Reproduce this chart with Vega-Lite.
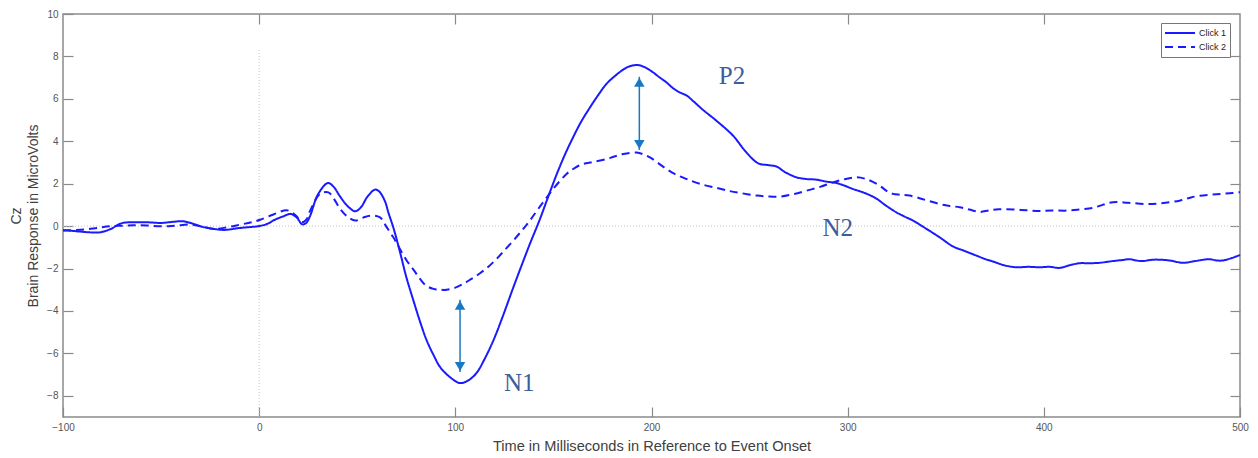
{
  "$schema": "https://vega.github.io/schema/vega-lite/v6.json",
  "width": 1177,
  "height": 403,
  "autosize": {"type": "none"},
  "padding": {"left": 63, "top": 14, "right": 18, "bottom": 41},
  "background": "white",
  "config": {
    "view": {"stroke": "#8a8a8a", "strokeWidth": 1.5},
    "font": "Liberation Sans"
  },
  "datasets": {
    "eeg": [
      {"t": -100, "v": -0.2, "series": "Click 1"},
      {"t": -96, "v": -0.22, "series": "Click 1"},
      {"t": -91, "v": -0.26, "series": "Click 1"},
      {"t": -85, "v": -0.3, "series": "Click 1"},
      {"t": -81, "v": -0.29, "series": "Click 1"},
      {"t": -76, "v": -0.15, "series": "Click 1"},
      {"t": -70, "v": 0.14, "series": "Click 1"},
      {"t": -64, "v": 0.18, "series": "Click 1"},
      {"t": -57, "v": 0.18, "series": "Click 1"},
      {"t": -50, "v": 0.15, "series": "Click 1"},
      {"t": -44, "v": 0.2, "series": "Click 1"},
      {"t": -39, "v": 0.23, "series": "Click 1"},
      {"t": -34, "v": 0.12, "series": "Click 1"},
      {"t": -29, "v": -0.03, "series": "Click 1"},
      {"t": -24, "v": -0.12, "series": "Click 1"},
      {"t": -18, "v": -0.18, "series": "Click 1"},
      {"t": -10, "v": -0.09, "series": "Click 1"},
      {"t": -4, "v": -0.04, "series": "Click 1"},
      {"t": 0, "v": 0.0, "series": "Click 1"},
      {"t": 4, "v": 0.1, "series": "Click 1"},
      {"t": 8, "v": 0.3, "series": "Click 1"},
      {"t": 12, "v": 0.45, "series": "Click 1"},
      {"t": 16, "v": 0.57, "series": "Click 1"},
      {"t": 19, "v": 0.42, "series": "Click 1"},
      {"t": 22, "v": 0.08, "series": "Click 1"},
      {"t": 24, "v": 0.15, "series": "Click 1"},
      {"t": 26, "v": 0.49, "series": "Click 1"},
      {"t": 30, "v": 1.5, "series": "Click 1"},
      {"t": 35, "v": 2.03, "series": "Click 1"},
      {"t": 38, "v": 1.85, "series": "Click 1"},
      {"t": 41, "v": 1.43, "series": "Click 1"},
      {"t": 45, "v": 0.95, "series": "Click 1"},
      {"t": 49, "v": 0.7, "series": "Click 1"},
      {"t": 52, "v": 0.9, "series": "Click 1"},
      {"t": 55, "v": 1.36, "series": "Click 1"},
      {"t": 59, "v": 1.72, "series": "Click 1"},
      {"t": 61, "v": 1.65, "series": "Click 1"},
      {"t": 64, "v": 1.2, "series": "Click 1"},
      {"t": 66, "v": 0.6, "series": "Click 1"},
      {"t": 68.5, "v": -0.1, "series": "Click 1"},
      {"t": 72, "v": -1.3, "series": "Click 1"},
      {"t": 75, "v": -2.4, "series": "Click 1"},
      {"t": 78.6, "v": -3.5, "series": "Click 1"},
      {"t": 82, "v": -4.5, "series": "Click 1"},
      {"t": 85.4, "v": -5.39, "series": "Click 1"},
      {"t": 89, "v": -6.1, "series": "Click 1"},
      {"t": 92.2, "v": -6.64, "series": "Click 1"},
      {"t": 97, "v": -7.1, "series": "Click 1"},
      {"t": 102.4, "v": -7.4, "series": "Click 1"},
      {"t": 107, "v": -7.25, "series": "Click 1"},
      {"t": 111, "v": -6.9, "series": "Click 1"},
      {"t": 115, "v": -6.25, "series": "Click 1"},
      {"t": 119.4, "v": -5.39, "series": "Click 1"},
      {"t": 124, "v": -4.3, "series": "Click 1"},
      {"t": 129.6, "v": -2.88, "series": "Click 1"},
      {"t": 134, "v": -1.8, "series": "Click 1"},
      {"t": 138, "v": -0.84, "series": "Click 1"},
      {"t": 143, "v": 0.3, "series": "Click 1"},
      {"t": 147, "v": 1.3, "series": "Click 1"},
      {"t": 151.7, "v": 2.45, "series": "Click 1"},
      {"t": 156, "v": 3.4, "series": "Click 1"},
      {"t": 160, "v": 4.18, "series": "Click 1"},
      {"t": 164, "v": 4.9, "series": "Click 1"},
      {"t": 168.6, "v": 5.59, "series": "Click 1"},
      {"t": 173, "v": 6.2, "series": "Click 1"},
      {"t": 177, "v": 6.7, "series": "Click 1"},
      {"t": 181, "v": 7.05, "series": "Click 1"},
      {"t": 185.6, "v": 7.38, "series": "Click 1"},
      {"t": 189, "v": 7.54, "series": "Click 1"},
      {"t": 193.2, "v": 7.59, "series": "Click 1"},
      {"t": 197, "v": 7.47, "series": "Click 1"},
      {"t": 200.9, "v": 7.24, "series": "Click 1"},
      {"t": 204, "v": 7.02, "series": "Click 1"},
      {"t": 207.7, "v": 6.77, "series": "Click 1"},
      {"t": 211, "v": 6.5, "series": "Click 1"},
      {"t": 214.5, "v": 6.3, "series": "Click 1"},
      {"t": 218, "v": 6.15, "series": "Click 1"},
      {"t": 221.2, "v": 5.9, "series": "Click 1"},
      {"t": 226, "v": 5.5, "series": "Click 1"},
      {"t": 233.2, "v": 4.96, "series": "Click 1"},
      {"t": 241.6, "v": 4.26, "series": "Click 1"},
      {"t": 248.4, "v": 3.47, "series": "Click 1"},
      {"t": 254.4, "v": 2.96, "series": "Click 1"},
      {"t": 259, "v": 2.88, "series": "Click 1"},
      {"t": 263.7, "v": 2.81, "series": "Click 1"},
      {"t": 268, "v": 2.55, "series": "Click 1"},
      {"t": 273.9, "v": 2.3, "series": "Click 1"},
      {"t": 279, "v": 2.22, "series": "Click 1"},
      {"t": 284.1, "v": 2.19, "series": "Click 1"},
      {"t": 289, "v": 2.1, "series": "Click 1"},
      {"t": 294.3, "v": 2.03, "series": "Click 1"},
      {"t": 298, "v": 1.92, "series": "Click 1"},
      {"t": 302.7, "v": 1.75, "series": "Click 1"},
      {"t": 309, "v": 1.55, "series": "Click 1"},
      {"t": 314.6, "v": 1.3, "series": "Click 1"},
      {"t": 319, "v": 1.0, "series": "Click 1"},
      {"t": 324.8, "v": 0.65, "series": "Click 1"},
      {"t": 329, "v": 0.45, "series": "Click 1"},
      {"t": 333.3, "v": 0.26, "series": "Click 1"},
      {"t": 340, "v": -0.12, "series": "Click 1"},
      {"t": 346.9, "v": -0.53, "series": "Click 1"},
      {"t": 353.7, "v": -0.96, "series": "Click 1"},
      {"t": 359, "v": -1.15, "series": "Click 1"},
      {"t": 365.6, "v": -1.39, "series": "Click 1"},
      {"t": 370, "v": -1.55, "series": "Click 1"},
      {"t": 374.1, "v": -1.67, "series": "Click 1"},
      {"t": 380, "v": -1.85, "series": "Click 1"},
      {"t": 386, "v": -1.94, "series": "Click 1"},
      {"t": 392, "v": -1.92, "series": "Click 1"},
      {"t": 397.9, "v": -1.94, "series": "Click 1"},
      {"t": 403, "v": -1.92, "series": "Click 1"},
      {"t": 408, "v": -1.97, "series": "Click 1"},
      {"t": 413, "v": -1.85, "series": "Click 1"},
      {"t": 418.2, "v": -1.75, "series": "Click 1"},
      {"t": 423, "v": -1.75, "series": "Click 1"},
      {"t": 428.4, "v": -1.73, "series": "Click 1"},
      {"t": 435, "v": -1.65, "series": "Click 1"},
      {"t": 440, "v": -1.6, "series": "Click 1"},
      {"t": 443.7, "v": -1.56, "series": "Click 1"},
      {"t": 447, "v": -1.62, "series": "Click 1"},
      {"t": 450.5, "v": -1.65, "series": "Click 1"},
      {"t": 454, "v": -1.6, "series": "Click 1"},
      {"t": 457.3, "v": -1.58, "series": "Click 1"},
      {"t": 464, "v": -1.62, "series": "Click 1"},
      {"t": 470.9, "v": -1.73, "series": "Click 1"},
      {"t": 477, "v": -1.65, "series": "Click 1"},
      {"t": 484.4, "v": -1.56, "series": "Click 1"},
      {"t": 488, "v": -1.62, "series": "Click 1"},
      {"t": 491.2, "v": -1.62, "series": "Click 1"},
      {"t": 496, "v": -1.5, "series": "Click 1"},
      {"t": 500, "v": -1.36, "series": "Click 1"},

      {"t": -100, "v": -0.2, "series": "Click 2"},
      {"t": -93, "v": -0.18, "series": "Click 2"},
      {"t": -86, "v": -0.13, "series": "Click 2"},
      {"t": -80, "v": -0.05, "series": "Click 2"},
      {"t": -76, "v": -0.01, "series": "Click 2"},
      {"t": -70, "v": 0.02, "series": "Click 2"},
      {"t": -64, "v": 0.04, "series": "Click 2"},
      {"t": -57, "v": 0.03, "series": "Click 2"},
      {"t": -50, "v": -0.01, "series": "Click 2"},
      {"t": -43, "v": 0.02, "series": "Click 2"},
      {"t": -35, "v": 0.07, "series": "Click 2"},
      {"t": -29, "v": -0.02, "series": "Click 2"},
      {"t": -23.4, "v": -0.13, "series": "Click 2"},
      {"t": -16, "v": -0.05, "series": "Click 2"},
      {"t": -9.7, "v": 0.07, "series": "Click 2"},
      {"t": -4, "v": 0.18, "series": "Click 2"},
      {"t": 0.5, "v": 0.3, "series": "Click 2"},
      {"t": 7.3, "v": 0.55, "series": "Click 2"},
      {"t": 14, "v": 0.75, "series": "Click 2"},
      {"t": 17, "v": 0.62, "series": "Click 2"},
      {"t": 19.2, "v": 0.45, "series": "Click 2"},
      {"t": 21.7, "v": 0.18, "series": "Click 2"},
      {"t": 24, "v": 0.3, "series": "Click 2"},
      {"t": 26, "v": 0.73, "series": "Click 2"},
      {"t": 31, "v": 1.52, "series": "Click 2"},
      {"t": 35.3, "v": 1.59, "series": "Click 2"},
      {"t": 38, "v": 1.3, "series": "Click 2"},
      {"t": 41.3, "v": 0.81, "series": "Click 2"},
      {"t": 45, "v": 0.45, "series": "Click 2"},
      {"t": 49, "v": 0.26, "series": "Click 2"},
      {"t": 53, "v": 0.4, "series": "Click 2"},
      {"t": 56.5, "v": 0.49, "series": "Click 2"},
      {"t": 61.6, "v": 0.41, "series": "Click 2"},
      {"t": 65, "v": -0.05, "series": "Click 2"},
      {"t": 68.4, "v": -0.53, "series": "Click 2"},
      {"t": 71, "v": -0.95, "series": "Click 2"},
      {"t": 75.2, "v": -1.62, "series": "Click 2"},
      {"t": 79, "v": -2.1, "series": "Click 2"},
      {"t": 82, "v": -2.49, "series": "Click 2"},
      {"t": 85, "v": -2.8, "series": "Click 2"},
      {"t": 88.8, "v": -2.96, "series": "Click 2"},
      {"t": 92, "v": -3.0, "series": "Click 2"},
      {"t": 95.6, "v": -3.0, "series": "Click 2"},
      {"t": 100, "v": -2.9, "series": "Click 2"},
      {"t": 104.1, "v": -2.72, "series": "Click 2"},
      {"t": 108, "v": -2.5, "series": "Click 2"},
      {"t": 112.6, "v": -2.22, "series": "Click 2"},
      {"t": 117, "v": -1.9, "series": "Click 2"},
      {"t": 121.1, "v": -1.54, "series": "Click 2"},
      {"t": 125, "v": -1.15, "series": "Click 2"},
      {"t": 129.6, "v": -0.68, "series": "Click 2"},
      {"t": 134, "v": -0.2, "series": "Click 2"},
      {"t": 138, "v": 0.26, "series": "Click 2"},
      {"t": 143.1, "v": 0.92, "series": "Click 2"},
      {"t": 149.9, "v": 1.75, "series": "Click 2"},
      {"t": 156.7, "v": 2.46, "series": "Click 2"},
      {"t": 161, "v": 2.75, "series": "Click 2"},
      {"t": 165.2, "v": 2.93, "series": "Click 2"},
      {"t": 170, "v": 3.02, "series": "Click 2"},
      {"t": 177.1, "v": 3.16, "series": "Click 2"},
      {"t": 181, "v": 3.28, "series": "Click 2"},
      {"t": 185.6, "v": 3.4, "series": "Click 2"},
      {"t": 192.4, "v": 3.47, "series": "Click 2"},
      {"t": 196, "v": 3.38, "series": "Click 2"},
      {"t": 199.2, "v": 3.24, "series": "Click 2"},
      {"t": 203, "v": 3.0, "series": "Click 2"},
      {"t": 207.7, "v": 2.69, "series": "Click 2"},
      {"t": 212, "v": 2.45, "series": "Click 2"},
      {"t": 217.9, "v": 2.22, "series": "Click 2"},
      {"t": 224.7, "v": 1.99, "series": "Click 2"},
      {"t": 233.2, "v": 1.8, "series": "Click 2"},
      {"t": 240, "v": 1.65, "series": "Click 2"},
      {"t": 246, "v": 1.55, "series": "Click 2"},
      {"t": 253.6, "v": 1.44, "series": "Click 2"},
      {"t": 259, "v": 1.4, "series": "Click 2"},
      {"t": 265.4, "v": 1.39, "series": "Click 2"},
      {"t": 272, "v": 1.5, "series": "Click 2"},
      {"t": 279, "v": 1.67, "series": "Click 2"},
      {"t": 286, "v": 1.85, "series": "Click 2"},
      {"t": 292.6, "v": 2.06, "series": "Click 2"},
      {"t": 298, "v": 2.2, "series": "Click 2"},
      {"t": 304.5, "v": 2.3, "series": "Click 2"},
      {"t": 310, "v": 2.2, "series": "Click 2"},
      {"t": 316.4, "v": 1.9, "series": "Click 2"},
      {"t": 320, "v": 1.65, "series": "Click 2"},
      {"t": 323.1, "v": 1.52, "series": "Click 2"},
      {"t": 327, "v": 1.48, "series": "Click 2"},
      {"t": 331.6, "v": 1.44, "series": "Click 2"},
      {"t": 339, "v": 1.25, "series": "Click 2"},
      {"t": 346.9, "v": 1.04, "series": "Click 2"},
      {"t": 352, "v": 0.95, "series": "Click 2"},
      {"t": 357.1, "v": 0.89, "series": "Click 2"},
      {"t": 362, "v": 0.78, "series": "Click 2"},
      {"t": 367.3, "v": 0.67, "series": "Click 2"},
      {"t": 372, "v": 0.74, "series": "Click 2"},
      {"t": 377, "v": 0.79, "series": "Click 2"},
      {"t": 384.3, "v": 0.78, "series": "Click 2"},
      {"t": 391, "v": 0.75, "series": "Click 2"},
      {"t": 397.9, "v": 0.71, "series": "Click 2"},
      {"t": 404, "v": 0.74, "series": "Click 2"},
      {"t": 411.5, "v": 0.73, "series": "Click 2"},
      {"t": 418, "v": 0.78, "series": "Click 2"},
      {"t": 425.1, "v": 0.86, "series": "Click 2"},
      {"t": 430, "v": 1.0, "series": "Click 2"},
      {"t": 435.3, "v": 1.13, "series": "Click 2"},
      {"t": 443, "v": 1.1, "series": "Click 2"},
      {"t": 452.3, "v": 1.04, "series": "Click 2"},
      {"t": 460, "v": 1.08, "series": "Click 2"},
      {"t": 469.2, "v": 1.2, "series": "Click 2"},
      {"t": 475, "v": 1.35, "series": "Click 2"},
      {"t": 479.4, "v": 1.43, "series": "Click 2"},
      {"t": 488, "v": 1.5, "series": "Click 2"},
      {"t": 496.3, "v": 1.56, "series": "Click 2"},
      {"t": 500, "v": 1.6, "series": "Click 2"}
    ],
    "refs": [
      {"t": 0, "t2": 0, "v": -9, "v2": 8.4},
      {"t": -100, "t2": 500, "v": 0, "v2": 0}
    ],
    "arrows": [
      {"t": 193.8, "v": 7.04, "v2": 3.59},
      {"t": 102.4, "v": -3.47, "v2": -6.88}
    ],
    "labels": [
      {"label": "P2", "t": 234.3, "v": 6.69},
      {"label": "N1", "t": 124.8, "v": -7.77},
      {"label": "N2", "t": 287.2, "v": -0.45}
    ]
  },
  "encoding": {
    "x": {"field": "t", "type": "quantitative", "scale": {"domain": [-100, 500], "nice": false, "zero": false}, "axis": null},
    "y": {"field": "v", "type": "quantitative", "scale": {"domain": [-9, 10], "nice": false, "zero": false}, "axis": null}
  },
  "layer": [
    {
      "data": {"name": "refs"},
      "mark": {"type": "rule", "stroke": "#c4c4c4", "strokeWidth": 1, "strokeDash": [1, 2]},
      "encoding": {
        "x": {"field": "t", "type": "quantitative", "scale": {"domain": [-100, 500], "nice": false, "zero": false},
          "axis": {"orient": "top", "values": [0, 100, 200, 300, 400], "labels": false, "domain": false, "grid": false, "tickSize": -10, "tickColor": "#8a8a8a", "tickWidth": 1.2, "title": null}},
        "x2": {"field": "t2"},
        "y": {"field": "v", "type": "quantitative", "scale": {"domain": [-9, 10], "nice": false, "zero": false},
          "axis": {"orient": "right", "values": [-8, -6, -4, -2, 0, 2, 4, 6, 8], "labels": false, "domain": false, "grid": false, "tickSize": -10, "tickColor": "#8a8a8a", "tickWidth": 1.2, "title": null}},
        "y2": {"field": "v2"}
      }
    },
    {
      "data": {"name": "eeg"},
      "mark": {"type": "line", "strokeWidth": 2, "interpolate": "catmull-rom"},
      "encoding": {
        "x": {"field": "t", "type": "quantitative", "scale": {"domain": [-100, 500], "nice": false, "zero": false},
          "axis": {"orient": "bottom", "values": [-100, 0, 100, 200, 300, 400, 500], "domain": false, "grid": false, "tickSize": -10, "tickColor": "#8a8a8a", "tickWidth": 1.2,
            "labelFontSize": 10, "labelColor": "#555555", "labelPadding": 15, "labelFont": "Liberation Sans", "labelFlush": false,
            "title": "Time in Milliseconds in Reference to Event Onset", "titleFontSize": 14.6, "titleFontWeight": "normal", "titleColor": "#404040", "titlePadding": 6, "titleFont": "Liberation Sans"}},
        "y": {"field": "v", "type": "quantitative", "scale": {"domain": [-9, 10], "nice": false, "zero": false},
          "axis": {"orient": "left", "values": [-8, -6, -4, -2, 0, 2, 4, 6, 8, 10], "domain": false, "grid": false, "tickSize": -10, "tickColor": "#8a8a8a", "tickWidth": 1.2,
            "labelFontSize": 10, "labelColor": "#555555", "labelPadding": 15, "labelFont": "Liberation Sans", "labelFlush": false,
            "title": ["Cz", "Brain Response in MicroVolts"], "titleFontSize": 14, "titleFontWeight": "normal", "titleColor": "#404040", "titlePadding": 6, "titleFont": "Liberation Sans", "titleLineHeight": 17}},
        "color": {"field": "series", "type": "nominal", "scale": {"domain": ["Click 1", "Click 2"], "range": ["#1a1aff", "#1a1aff"]},
          "legend": {"orient": "none", "legendX": 1098, "legendY": 9, "title": null, "strokeColor": "#777777", "fillColor": "white", "padding": 3,
            "symbolType": "stroke", "symbolSize": 900, "symbolStrokeWidth": 2, "labelFontSize": 9, "labelFont": "Liberation Sans", "labelColor": "#222222", "labelOffset": 3, "clipHeight": 14, "rowPadding": 0}},
        "strokeDash": {"field": "series", "type": "nominal", "scale": {"domain": ["Click 1", "Click 2"], "range": [[1, 0], [8, 5]]},
          "legend": {"orient": "none", "legendX": 1098, "legendY": 9, "title": null, "strokeColor": "#777777", "fillColor": "white", "padding": 3,
            "symbolType": "stroke", "symbolSize": 900, "symbolStrokeWidth": 2, "labelFontSize": 9, "labelFont": "Liberation Sans", "labelColor": "#222222", "labelOffset": 3, "clipHeight": 14, "rowPadding": 0}}
      }
    },
    {
      "data": {"name": "arrows"},
      "mark": {"type": "rule", "stroke": "#1a78c2", "strokeWidth": 1.5},
      "encoding": {"y2": {"field": "v2"}}
    },
    {
      "data": {"name": "arrows"},
      "mark": {"type": "point", "shape": "triangle-up", "filled": true, "size": 110, "color": "#1a78c2", "opacity": 1, "yOffset": 5.5},
      "encoding": {}
    },
    {
      "data": {"name": "arrows"},
      "mark": {"type": "point", "shape": "triangle-down", "filled": true, "size": 110, "color": "#1a78c2", "opacity": 1, "yOffset": -5.5},
      "encoding": {"y": {"field": "v2", "type": "quantitative", "scale": {"domain": [-9, 10], "nice": false, "zero": false}, "axis": null}}
    },
    {
      "data": {"name": "labels"},
      "mark": {"type": "text", "font": "Liberation Serif", "fontSize": 25, "color": "#3d5c9e", "align": "left", "baseline": "alphabetic"},
      "encoding": {"text": {"field": "label"}}
    }
  ]
}
